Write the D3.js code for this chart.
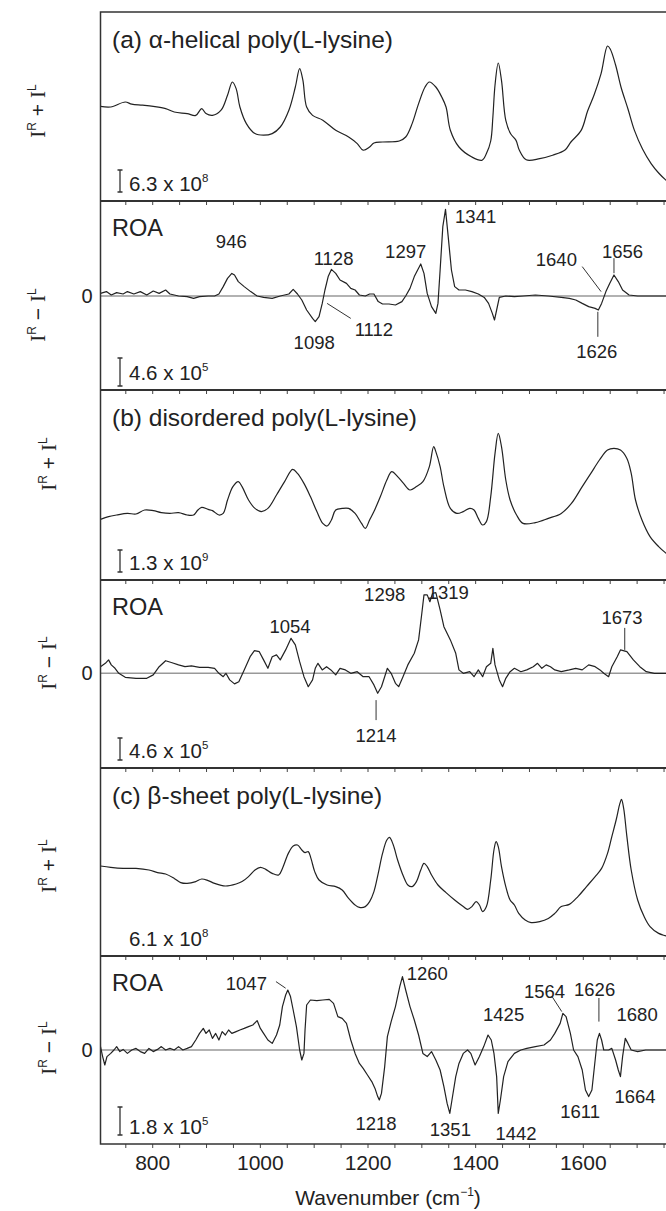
<!DOCTYPE html>
<html><head><meta charset="utf-8">
<script src="https://cdn.jsdelivr.net/npm/d3@7"></script>
<style>
body{margin:0;background:#fff}
svg{display:block}
text{font-family:"Liberation Sans",Arial,Helvetica,sans-serif;fill:#222}
</style>
</head><body>
<svg id="chart" width="666" height="1211"></svg>
<script>
// ---------------- data (wavenumber cm-1, relative intensity) ----------------
const ramanA = [[703,47.3],[722,47],[749,49.5],[761,48.4],[781,47.9],[801,47.3],[824,46.2],[840,44.5],[864,43.7],[880,42.8],[891,46.2],[899,43.7],[911,42.8],[927,45.4],[939,52.9],[948,59.5],[955,56.2],[962,47],[974,38.7],[990,33.7],[1006,32.9],[1022,33.7],[1037,37],[1053,45.4],[1065,57],[1073,66.2],[1079,60.4],[1086,47],[1097,42.8],[1116,40.4],[1140,35.4],[1164,32],[1180,28.7],[1191,25.4],[1203,27],[1211,29],[1227,29.5],[1258,30],[1270,32],[1282,38.7],[1294,48.7],[1306,57],[1314,59.5],[1326,57],[1337,52],[1345,47],[1353,35.4],[1369,27],[1393,22],[1412,20.4],[1420,23.7],[1428,30],[1432,42],[1436,58],[1442,69],[1448,60.3],[1456,40.3],[1465,33.6],[1475,30.3],[1481,25.5],[1494,20.6],[1519,21.2],[1543,22.9],[1566,25.5],[1577,29.5],[1596,35.3],[1608,45],[1620,53],[1633,63.7],[1645,77.5],[1650,76],[1660,68],[1670,57],[1683,46],[1695,35.3],[1710,26],[1726,18.7],[1740,14],[1754,10.3],[1770,7]];
const roaA = [[703,1.3],[714,2.2],[723,0.5],[733,1.7],[745,1],[753,2.2],[765,1],[777,2.2],[789,0.5],[801,2.5],[812,1.3],[824,3],[832,1],[848,0],[864,-0.3],[876,-1.2],[887,-0.3],[903,0],[915,0],[923,1],[931,4.7],[939,8.8],[947,11.3],[952,10.5],[959,7.2],[970,4.7],[982,2.2],[994,0],[1006,-0.7],[1022,-1.2],[1037,0],[1053,1],[1061,3.3],[1069,1],[1077,-2],[1086,-7],[1097,-11.2],[1102,-12.8],[1109,-10.3],[1115,-3.7],[1120,3],[1126,9.7],[1132,13.3],[1140,11.3],[1148,8],[1160,6.3],[1168,3.8],[1176,3],[1184,0.5],[1195,0],[1203,1],[1211,1],[1219,-2.8],[1227,-4],[1239,-4],[1251,-4.5],[1263,-2.8],[1270,0],[1278,3.8],[1286,9.7],[1298,16],[1304,11.3],[1310,1.3],[1318,-5.3],[1326,-8.7],[1330,-3.7],[1334,13],[1339,34.7],[1344,43.3],[1349,29.7],[1355,13],[1361,4.7],[1369,3],[1381,3],[1393,2.2],[1405,1],[1416,-0.7],[1424,-3.7],[1431,-8.7],[1435,-12],[1439,-7],[1444,-0.7],[1456,0],[1472,-0.3],[1488,0],[1511,0.5],[1535,0],[1559,-0.7],[1574,-1.2],[1586,-2],[1598,-3.7],[1610,-5.3],[1622,-6.2],[1628,-7],[1634,-3.7],[1642,2.2],[1649,6.3],[1657,10.5],[1665,7.2],[1673,3],[1685,0.5],[1701,0],[1724,0],[1770,0]];
const ramanB = [[703,29.3],[718,30.7],[733,31.5],[753,32.3],[769,32],[785,34],[801,33.7],[816,32.7],[832,32.3],[848,32.7],[864,31.5],[876,31.5],[884,34],[891,35.3],[903,34.3],[911,33.7],[923,31.5],[931,32.3],[939,39],[949,45.7],[959,48.2],[966,45.7],[978,39],[990,34.8],[1002,33.2],[1014,34.8],[1030,41.5],[1045,48.2],[1060,54.3],[1069,52.3],[1081,47.3],[1093,40.7],[1105,33.2],[1116,27.3],[1124,26],[1132,29],[1140,34],[1152,34.8],[1164,34.8],[1176,32.3],[1188,27.3],[1195,24.8],[1203,29],[1211,33.2],[1223,40.7],[1235,49],[1244,53.2],[1255,50.7],[1266,47.3],[1278,44],[1290,45.7],[1302,48.2],[1314,55.7],[1322,65.7],[1326,63.2],[1334,55.7],[1341,45.7],[1353,34.8],[1365,32.3],[1377,33.2],[1389,34.8],[1397,34],[1405,29.8],[1413,26.5],[1420,28.2],[1428,40.7],[1436,62.3],[1442,72.3],[1448,65.7],[1456,49],[1464,39],[1476,31.5],[1488,27.3],[1511,27.7],[1535,29.8],[1559,32.3],[1578,37.3],[1598,45.7],[1614,52.3],[1630,59],[1645,64],[1657,64.8],[1669,64],[1681,59.8],[1689,52.3],[1697,39],[1709,29],[1724,20.7],[1740,15.7],[1754,12.3],[1770,9]];
const roaB = [[703,3.3],[712,5],[718,6.7],[723,4.2],[730,2.5],[737,0],[749,-2],[769,-2.5],[789,-2.5],[801,-0.8],[812,3.3],[824,6.3],[836,5.3],[848,4.2],[860,3.3],[872,3.7],[887,3],[903,3],[915,2.5],[923,0],[931,-1.7],[936,0],[943,-3.3],[952,-5.3],[960,-4.2],[970,1.7],[981,8.3],[989,11.3],[998,10.8],[1006,6.7],[1014,2.5],[1022,8.3],[1030,9.2],[1037,6.7],[1047,11.7],[1057,17.5],[1065,14.2],[1073,5.8],[1081,-1.7],[1089,-6.7],[1097,-3.3],[1102,2.5],[1107,5],[1115,1.7],[1123,3.3],[1131,1.7],[1140,-0.8],[1148,2.5],[1158,1.7],[1168,0],[1180,0.8],[1191,-1.7],[1202,-1.7],[1211,-5.8],[1218,-10],[1225,-6.7],[1231,-1.7],[1236,2.5],[1243,0],[1251,-5],[1257,-6.7],[1265,-1.7],[1274,4.2],[1286,10],[1294,16.7],[1300,30],[1304,39.2],[1310,39.2],[1315,35.8],[1320,40],[1326,40.3],[1334,31.7],[1341,23.3],[1353,16.7],[1363,10],[1369,1.7],[1377,0],[1389,0.8],[1397,-1.7],[1405,1.7],[1413,-1.7],[1420,3.3],[1428,5],[1432,12.5],[1436,4.2],[1444,-3.3],[1450,-6.7],[1456,-2.5],[1464,0.8],[1472,2.5],[1484,0.8],[1495,1.7],[1507,3.3],[1515,5],[1523,2.5],[1531,4.2],[1539,3.3],[1547,1.7],[1559,0.8],[1574,1.7],[1586,2.5],[1598,1.7],[1610,4.2],[1622,3.3],[1631,1.7],[1638,0],[1647,-1.7],[1653,3.3],[1663,8.3],[1669,11.7],[1681,10.8],[1693,6.7],[1705,3.3],[1717,0.8],[1732,0],[1770,0]];
const ramanC = [[703,45],[722,44.3],[745,43.8],[769,43.8],[793,43],[809,41.7],[824,41],[840,38.8],[852,36.7],[864,36.3],[880,37.2],[891,38.5],[903,37.7],[915,36.3],[935,35],[955,36],[966,37.2],[978,39.7],[990,43],[1000,44.3],[1010,43.3],[1022,41.3],[1034,40.5],[1041,43.8],[1052,51.3],[1061,55],[1069,55.5],[1077,53],[1083,51.7],[1089,52.2],[1094,48.8],[1101,42.2],[1109,38],[1124,35.5],[1140,34.7],[1152,33],[1164,28.8],[1176,25.5],[1184,24.3],[1195,24.7],[1203,27.2],[1211,32.2],[1219,41.3],[1227,51.3],[1235,58],[1240,59.3],[1247,55.5],[1255,48],[1266,39.7],[1274,35.5],[1282,34.7],[1290,37.2],[1298,43],[1304,46.3],[1310,44.7],[1318,40.5],[1330,35.5],[1345,31.7],[1361,28],[1377,24.7],[1385,23.3],[1393,24.7],[1401,27.2],[1407,25.5],[1413,22.2],[1420,24.7],[1428,38],[1434,53],[1438,57.2],[1442,54.7],[1448,44.7],[1456,34.7],[1464,28],[1472,25.5],[1480,21.3],[1492,18],[1503,16.7],[1519,17.2],[1535,18.8],[1547,21.3],[1559,24.7],[1574,25.8],[1590,29.7],[1606,34.7],[1622,39.7],[1634,43.8],[1645,51.3],[1653,59.7],[1661,68],[1668,76.3],[1671,78.3],[1675,73.8],[1681,59.7],[1689,43],[1701,28],[1713,19.7],[1724,14.7],[1740,11.3],[1754,10],[1770,8.5]];
const roaC = [[703,1.7],[707,-3.3],[711,-7.5],[715,-3.3],[722,-1.7],[728,0],[733,1.7],[739,-0.8],[745,0.3],[753,-1.7],[761,0],[769,0.8],[777,-0.8],[785,-1.7],[793,0.8],[801,-0.8],[809,0.3],[816,1.7],[824,0],[832,0.8],[840,0],[848,1.7],[856,0],[864,0.8],[872,1.7],[880,5],[887,8.3],[894,10.8],[899,8.3],[905,10],[911,5.8],[917,8.3],[923,5],[929,9.2],[935,7.5],[941,10],[947,8.3],[955,9.2],[962,10],[970,10.8],[978,11.7],[986,12.5],[994,14.7],[1000,10.8],[1006,8.3],[1014,5],[1022,3.3],[1030,7.5],[1036,12.5],[1041,21.7],[1047,27.5],[1051,30],[1056,26.7],[1061,20],[1067,11.7],[1073,0],[1077,-5],[1081,-1.7],[1083,10],[1086,22.5],[1093,25],[1105,24.7],[1116,25],[1128,25.3],[1136,23.3],[1144,16.7],[1152,15.8],[1160,13.3],[1168,5],[1176,-1.7],[1184,-6.7],[1191,-9.2],[1199,-12.5],[1207,-15.8],[1213,-19.2],[1218,-23.3],[1221,-25],[1225,-21.7],[1231,-8.3],[1236,6.7],[1243,14.2],[1251,21.7],[1259,31.7],[1264,36.7],[1270,30],[1278,21.7],[1286,15],[1294,7.5],[1302,-1.7],[1310,-3.3],[1318,-0.8],[1326,-5],[1334,-10],[1341,-18.3],[1347,-26.7],[1352,-31.7],[1356,-25],[1363,-13.3],[1369,-6.7],[1377,-1.7],[1385,0],[1391,-1.7],[1399,-7.5],[1407,-3.3],[1415,1.7],[1423,7.5],[1429,5],[1434,-1.7],[1439,-13.3],[1442,-31.7],[1446,-25],[1452,-13.3],[1460,-5.8],[1472,-1.7],[1484,0],[1495,0.8],[1511,1.7],[1527,2.5],[1539,5],[1547,8.3],[1557,13.3],[1562,18.3],[1568,16.7],[1576,8.3],[1582,0],[1590,-3.3],[1598,-10],[1604,-20],[1610,-23.3],[1616,-20],[1622,-5],[1626,5],[1630,8.3],[1634,5],[1638,0],[1647,0],[1653,0.8],[1660,-5],[1665,-10],[1669,-13.3],[1673,-3.3],[1678,5.8],[1683,3.3],[1689,0],[1701,-0.8],[1716,0],[1736,0],[1770,0]];

const tickLabels = [800, 1000, 1200, 1400, 1600];
const minorTicks = [750,800,850,900,950,1000,1050,1100,1150,1200,1250,1300,1350,1400,1450,1500,1550,1600,1650,1700,1750];

const titles = ["(a) \u03b1-helical poly(L-lysine)", "(b) disordered poly(L-lysine)", "(c) \u03b2-sheet poly(L-lysine)"];
const scaleMant = ["6.3", "4.6", "1.3", "4.6", "6.1", "1.8"];
const scaleExp = ["8", "5", "9", "5", "8", "5"];

// peak labels: [text, wavenumber, value]
const peaksA = [["946",946,27],["1128",1136,18.9],["1297",1270,22.2],["1341",1400,39.7],["1640",1550,18],["1656",1673,22.2],["1098",1100,-23.4],["1112",1211,-17],["1626",1625,-27.9]];
const leadersA = [[1598,14.7,1633,2.2],[1657,18.9,1657,11.4],[1124,-3.7,1168,-11.2],[1627,-7.9,1627,-20.4]];
const peaksB = [["1054",1055,23.3],["1298",1231,39.2],["1319",1349,40.2],["1673",1672,27.7],["1214",1215,-30.9]];
const leadersB = [[1677,22.7,1677,11.7],[1215,-13.4,1215,-23.4]];
const peaksC = [["1047",974,33.4],["1260",1310,38.4],["1425",1452,17.5],["1564",1528,29.2],["1626",1621,30],["1680",1700,17.5],["1218",1215,-36.7],["1351",1353,-40],["1442",1475,-41.7],["1611",1594,-30.9],["1664",1696,-23.4]];
const leadersC = [[1029,34.2,1047,30.9],[1542,26.7,1560,19.2],[1629,26,1629,14.2]];

// ---------------- layout ----------------
const svg = d3.select("#chart");
const x = d3.scaleLinear().domain([703, 1770]).range([100.5, 674.8]);
const bounds = [12, 201, 390, 580, 768, 956, 1144];

const panels = [
  {data: ramanA, dom:[0,94.5], roa:false, title:titles[0], labX:38, labY:111, peaks:[], leaders:[], bar:[31,9]},
  {data: roaA, dom:[-47,47.5], roa:true, labX:38, labY:315, peaks:peaksA, leaders:leadersA, bar:[32,4]},
  {data: ramanB, dom:[-1,94], roa:false, title:titles[1], labX:49, labY:464, peaks:[], leaders:[], bar:[30,8]},
  {data: roaB, dom:[-47.35,46.65], roa:true, labX:49, labY:663, peaks:peaksB, leaders:leadersB, bar:[30,8]},
  {data: ramanC, dom:[0,94], roa:false, title:titles[2], labX:49, labY:866, peaks:[], leaders:[], bar:null},
  {data: roaC, dom:[-47,47], roa:true, labX:49, labY:1048, peaks:peaksC, leaders:leadersC, bar:[37,9]}
];

function sup(t, base, s, size, ssize){
  t.append("tspan").text(base);
  t.append("tspan").attr("font-size", ssize).attr("dy", -size*0.45).text(s);
}

panels.forEach((p, i) => {
  const top = bounds[i], bot = bounds[i+1];
  const y = d3.scaleLinear().domain(p.dom).range([bot, top]);
  const g = svg.append("g");

  if (p.roa) {
    g.append("line").attr("x1", x(703)).attr("x2", x(1770)).attr("y1", y(0)).attr("y2", y(0))
      .attr("stroke", "#999").attr("stroke-width", 1.6);
    g.append("text").attr("x", 87).attr("y", y(0)).attr("dy", "0.35em").attr("text-anchor", "middle")
      .attr("font-size", 20).text("0");
  }

  const line = d3.line().x(d => x(d[0])).y(d => y(d[1]))
    .curve(p.roa ? d3.curveLinear : d3.curveCatmullRom.alpha(0.5));
  g.append("path").datum(p.data).attr("d", line).attr("fill", "none")
    .attr("stroke", "#222").attr("stroke-width", 1.2).attr("stroke-linejoin", "round");

  // title
  g.append("text").attr("x", 112).attr("y", top + 27).attr("dy", "0.35em")
    .attr("font-size", p.roa ? 23.5 : 24.5).text(p.roa ? "ROA" : p.title);

  // intensity scale bar + text
  if (p.bar) {
    const bx = 120;
    g.append("path").attr("d", `M${bx-2.5},${bot-p.bar[0]}H${bx+2.5}M${bx},${bot-p.bar[0]}V${bot-p.bar[1]}M${bx-2.5},${bot-p.bar[1]}H${bx+2.5}`)
      .attr("stroke", "#333").attr("stroke-width", 1.3).attr("fill", "none");
  }
  const st = g.append("text").attr("x", 129).attr("y", bot - 17).attr("dy", "0.35em").attr("font-size", 20.5);
  sup(st, scaleMant[i] + " x 10", scaleExp[i], 20.5, 11.5);

  // y label (rotated)
  const yl = g.append("text").attr("transform", `translate(${p.labX},${p.labY}) rotate(-90)`)
    .attr("text-anchor", "middle").attr("dy", "0.35em").attr("font-size", 21);
  yl.append("tspan").attr("font-family", "'Liberation Serif',serif").text("I");
  yl.append("tspan").attr("font-size", 12).attr("dy", -9).text("R");
  yl.append("tspan").attr("dy", 9).text(p.roa ? " \u2212 " : " + ");
  yl.append("tspan").attr("font-family", "'Liberation Serif',serif").text("I");
  yl.append("tspan").attr("font-size", 12).attr("dy", -9).text("L");

  // peak labels and leaders
  p.peaks.forEach(k => {
    g.append("text").attr("x", x(k[1])).attr("y", y(k[2])).attr("dy", "0.35em")
      .attr("text-anchor", "middle").attr("font-size", 18.5).text(k[0]);
  });
  p.leaders.forEach(l => {
    g.append("line").attr("x1", x(l[0])).attr("y1", y(l[1])).attr("x2", x(l[2])).attr("y2", y(l[3]))
      .attr("stroke", "#333").attr("stroke-width", 1);
  });

  // ticks at bottom boundary
  minorTicks.forEach(t => {
    g.append("line").attr("x1", x(t)).attr("x2", x(t)).attr("y1", bot).attr("y2", bot + 4)
      .attr("stroke", "#444").attr("stroke-width", 1);
  });
});

// frame
svg.append("rect").attr("x", 100.5).attr("y", 12).attr("width", x(1770) - 100.5).attr("height", 1144 - 12)
  .attr("fill", "none").attr("stroke", "#333").attr("stroke-width", 1.5);
bounds.slice(1, 6).forEach(b => {
  svg.append("line").attr("x1", 100.5).attr("x2", 680).attr("y1", b).attr("y2", b)
    .attr("stroke", "#333").attr("stroke-width", 2);
});

// x tick labels
tickLabels.forEach(t => {
  svg.append("text").attr("x", x(t)).attr("y", 1163).attr("dy", "0.35em").attr("text-anchor", "middle")
    .attr("font-size", 21).text(t);
});
const xt = svg.append("text").attr("x", 388).attr("y", 1198).attr("dy", "0.35em").attr("text-anchor", "middle").attr("font-size", 21);
xt.append("tspan").text("Wavenumber (cm");
xt.append("tspan").attr("font-size", 12).attr("dy", -9).text("\u22121");
xt.append("tspan").attr("dy", 9).text(")");
</script>
</body></html>
